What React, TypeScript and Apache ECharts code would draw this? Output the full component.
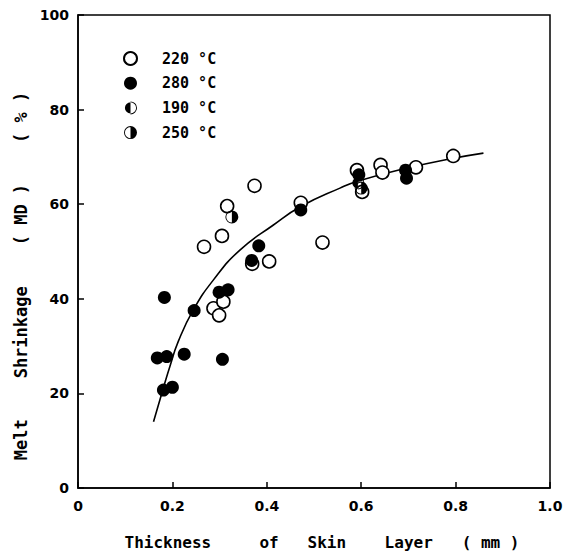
import React, { useEffect, useRef } from "react";
import * as echarts from "echarts";

// 220 °C (open circles): [thickness mm, shrinkage %]
const open220: number[][] = [
  [0.267, 51.0], [0.305, 53.3], [0.316, 59.6], [0.374, 63.9], [0.287, 38.0],
  [0.308, 39.4], [0.299, 36.5], [0.405, 47.9], [0.472, 60.3], [0.518, 51.9],
  [0.795, 70.2], [0.716, 67.8], [0.641, 68.3], [0.645, 66.7], [0.591, 67.2],
  [0.602, 62.6], [0.369, 47.4],
];
// 280 °C (filled circles)
const filled280: number[][] = [
  [0.183, 40.3], [0.246, 37.5], [0.168, 27.5], [0.188, 27.8], [0.225, 28.3],
  [0.306, 27.2], [0.181, 20.7], [0.200, 21.3], [0.299, 41.4], [0.318, 41.9],
  [0.383, 51.2], [0.368, 48.1], [0.472, 58.8], [0.694, 67.2], [0.696, 65.5],
  [0.595, 66.2],
];
// 190 °C (left half filled)
const half190: number[][] = [[0.593, 64.5]];
// 250 °C (right half filled)
const half250: number[][] = [[0.326, 57.3], [0.600, 63.4]];
// fitted curve
const curve: number[][] = [
  [0.160, 14.0], [0.181, 21.2], [0.195, 25.8], [0.2125, 31.0], [0.244, 37.6],
  [0.287, 44.0], [0.343, 50.3], [0.414, 55.6], [0.472, 59.5], [0.555, 63.4],
  [0.594, 64.9], [0.696, 67.6], [0.795, 69.7], [0.859, 70.8],
];
const xTicks = [0, 0.2, 0.4, 0.6, 0.8, 1.0];
const yTicks = [0, 20, 40, 60, 80, 100];
const seriesNames = ["220 \u00B0C", "280 \u00B0C", "190 \u00B0C", "250 \u00B0C"];
const xTitle = "Thickness     of   Skin    Layer   ( mm )";
const yTitle = "Melt    Shrinkage    ( MD )    ( % )";

const ring =
  "M-10 0A10 10 0 1 1 10 0A10 10 0 1 1 -10 0Z" +
  "M-8.6 0A8.6 8.6 0 1 0 8.6 0A8.6 8.6 0 1 0 -8.6 0Z";
const leftHalf = "path://" + ring + "M0 -10A10 10 0 0 0 0 10Z";
const rightHalf = "path://" + ring + "M0 -10A10 10 0 0 1 0 10Z";
const seriesIcons = ["circle", "circle", leftHalf, rightHalf];

const FONT = "DejaVu Sans";
const MONO = "DejaVu Sans Mono";

export default function App() {
  const ref = useRef<HTMLDivElement>(null);
  useEffect(() => {
    if (!ref.current) return;
    const chart = echarts.init(ref.current, null, { renderer: "svg" });
    const sym = 13;
    chart.setOption({
      animation: false,
      backgroundColor: "#fff",
      grid: {
        left: 78, right: 15, top: 15, bottom: 66,
        show: true, borderColor: "#000", borderWidth: 1.5,
        outerBoundsMode: "none",
      },
      legend: {
        orient: "vertical",
        left: 118,
        top: 46,
        itemWidth: sym,
        itemHeight: sym,
        itemGap: 9.7,
        data: seriesNames.map((name, i) => ({ name, icon: seriesIcons[i] })),
        textStyle: {
          fontFamily: MONO, fontSize: 15, fontWeight: "bold", color: "#000",
          padding: [0, 0, 0, 20],
        },
      },
      graphic: [
        {
          type: "text",
          x: 21,
          y: 276,
          rotation: Math.PI / 2,
          style: {
            text: yTitle,
            fontFamily: MONO, fontSize: 17, fontWeight: "bold", fill: "#000",
            align: "center", verticalAlign: "middle",
          },
        },
      ],
      xAxis: {
        type: "value",
        min: xTicks[0],
        max: xTicks[xTicks.length - 1],
        interval: 0.2,
        name: xTitle,
        nameLocation: "middle",
        nameGap: 46,
        nameTextStyle: { fontFamily: MONO, fontSize: 16, fontWeight: "bold", color: "#000", padding: [0, 0, 0, 16] },
        axisLine: { lineStyle: { color: "#000", width: 1.5 } },
        axisTick: { inside: true, length: 6, lineStyle: { color: "#000", width: 1.5 } },
        axisLabel: {
          margin: 11,
          fontFamily: FONT, fontSize: 14, fontWeight: "bold", color: "#000",
          formatter: (v: number) => (v === 0 ? "0" : v.toFixed(1)),
        },
        splitLine: { show: false },
      },
      yAxis: {
        type: "value",
        min: yTicks[0],
        max: yTicks[yTicks.length - 1],
        interval: 20,
        axisLine: { lineStyle: { color: "#000", width: 1.5 } },
        axisTick: { inside: true, length: 6, lineStyle: { color: "#000", width: 1.5 } },
        axisLabel: {
          margin: 9,
          fontFamily: FONT, fontSize: 14, fontWeight: "bold", color: "#000",
        },
        splitLine: { show: false },
      },
      series: [
        {
          type: "line",
          name: "fit",
          data: curve,
          smooth: 0.5,
          showSymbol: false,
          lineStyle: { color: "#000", width: 1.6 },
          z: 1,
        },
        {
          type: "scatter",
          name: seriesNames[0],
          data: open220,
          symbol: "circle",
          symbolSize: sym,
          itemStyle: { color: "#fff", borderColor: "#000", borderWidth: 1.6, opacity: 1 },
          z: 3,
        },
        {
          type: "scatter",
          name: seriesNames[1],
          data: filled280,
          symbol: "circle",
          symbolSize: sym,
          itemStyle: { color: "#000", opacity: 1 },
          z: 3,
        },
        {
          type: "scatter",
          name: seriesNames[2],
          data: half190,
          symbol: leftHalf,
          symbolSize: sym,
          itemStyle: { color: "#000", opacity: 1 },
          z: 4,
        },
        {
          type: "scatter",
          name: seriesNames[3],
          data: half250,
          symbol: rightHalf,
          symbolSize: sym,
          itemStyle: { color: "#000", opacity: 1 },
          z: 4,
        },
      ],
    });
    return () => chart.dispose();
  }, []);
  return (
    <div
      ref={ref}
      style={{ position: "fixed", left: 0, top: 0, width: 565, height: 554, background: "#fff" }}
    />
  );
}
